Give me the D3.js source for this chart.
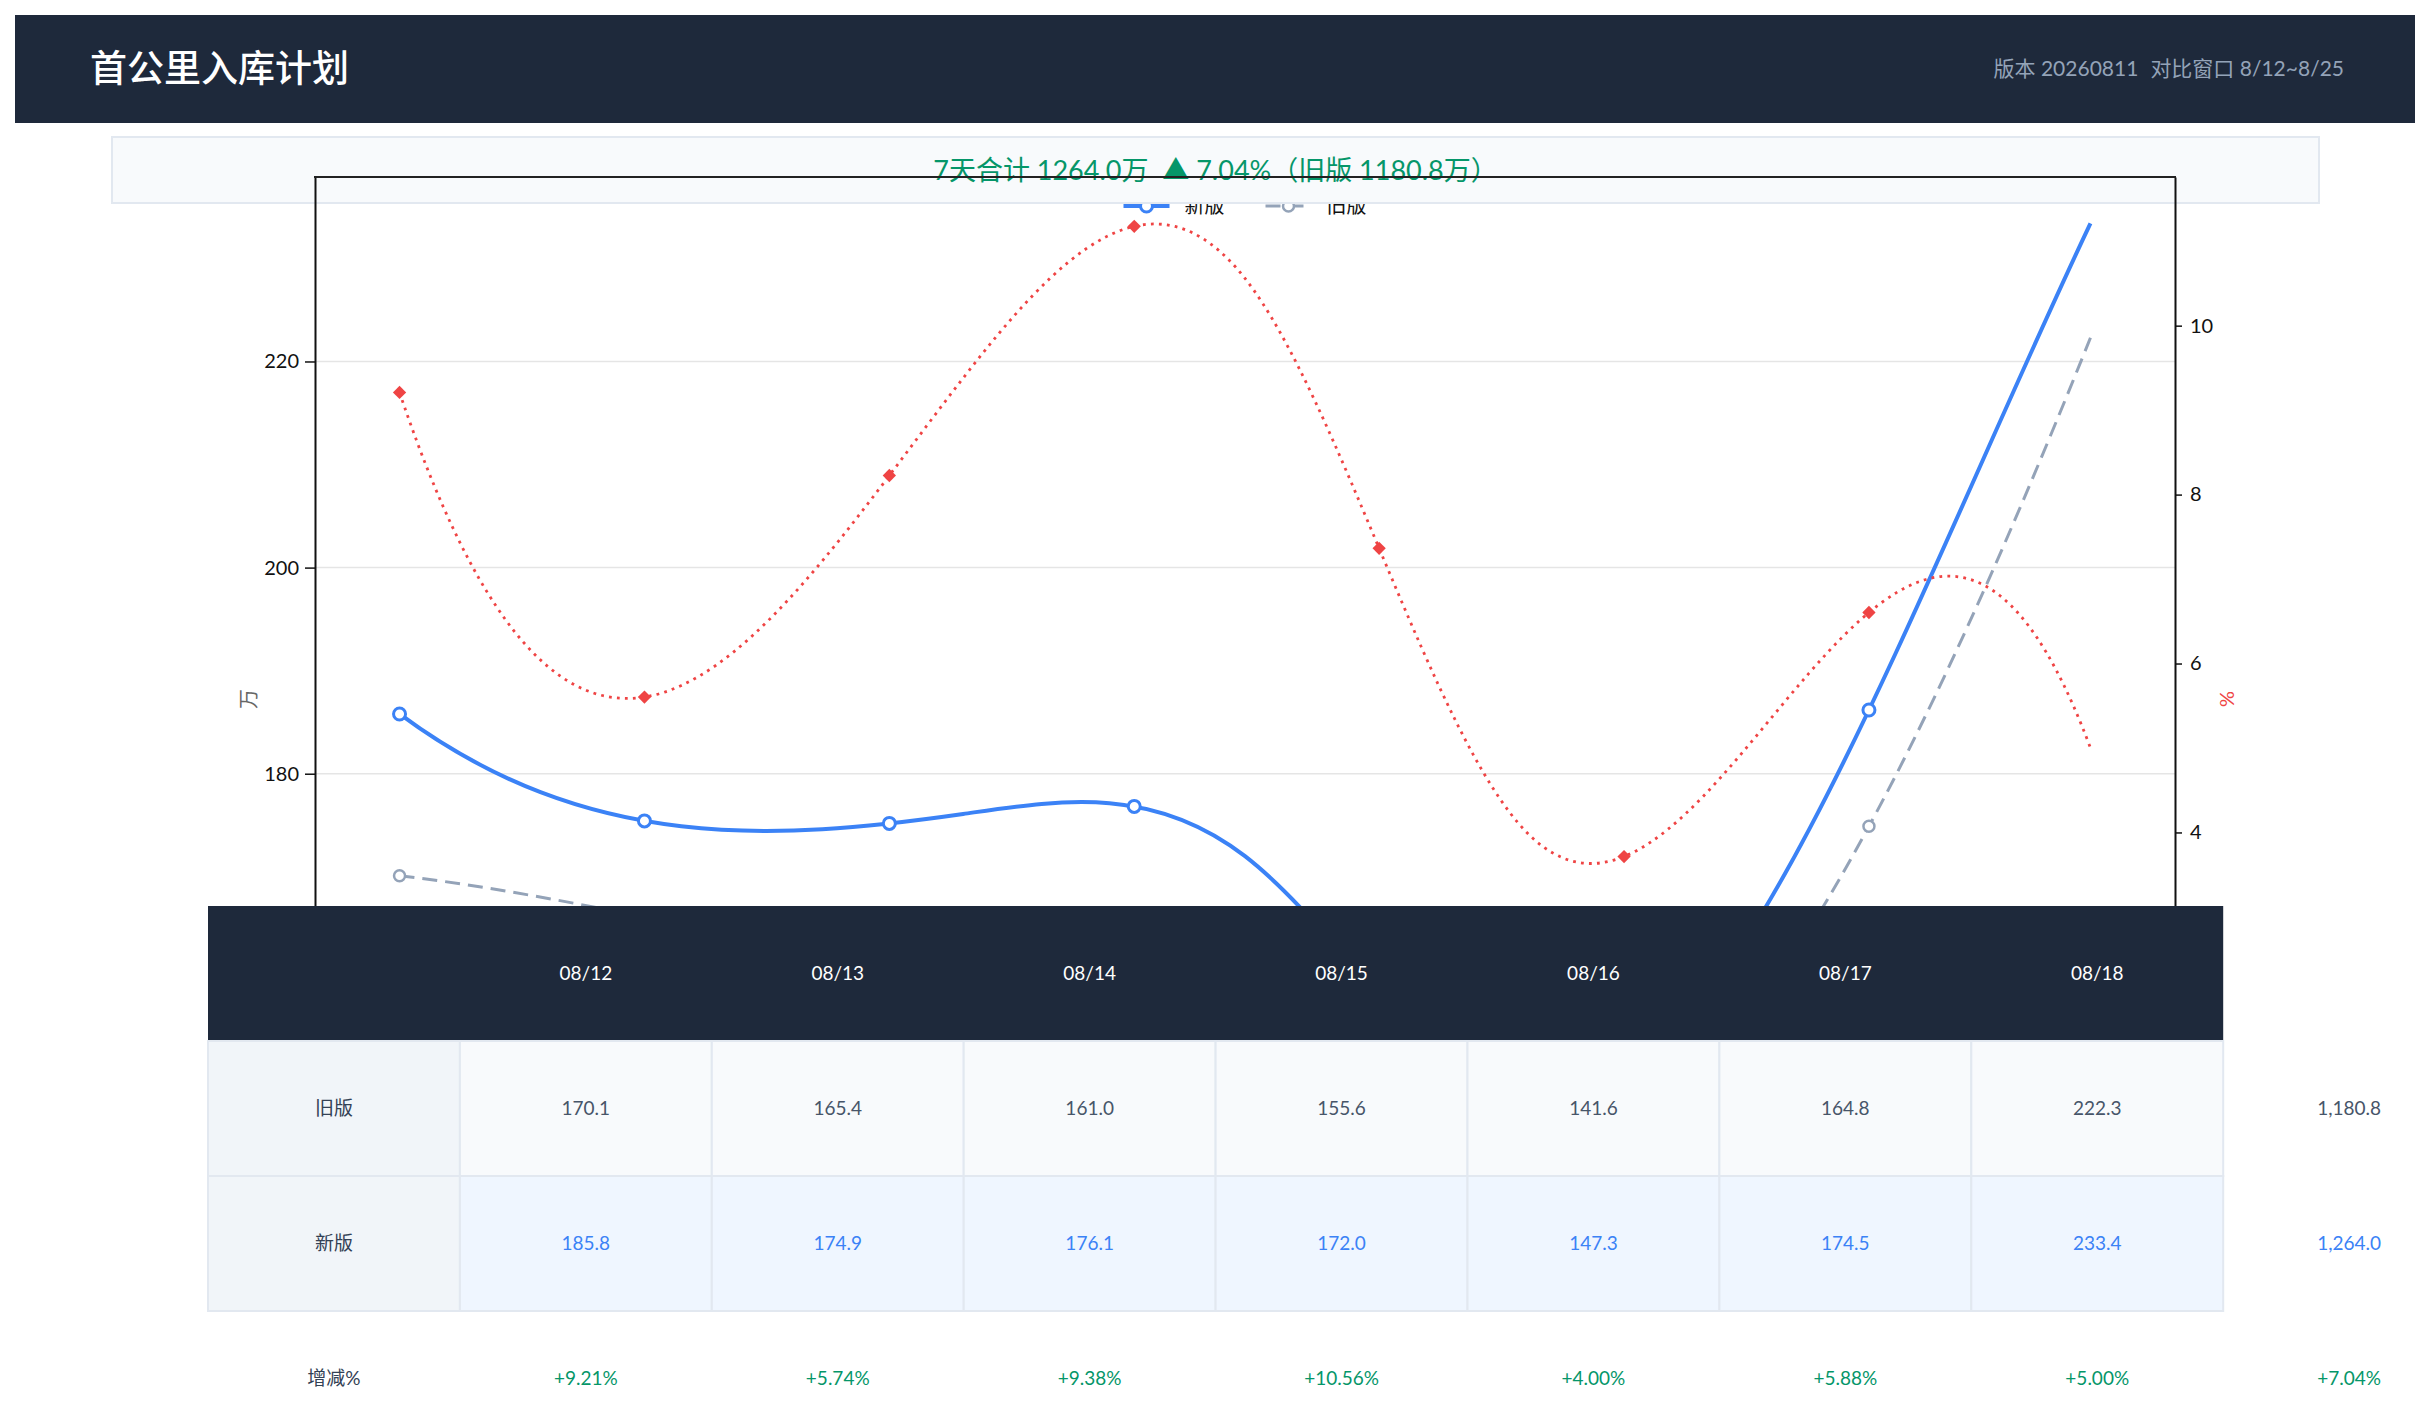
<!DOCTYPE html>
<html lang="zh-CN">
<head>
<meta charset="utf-8">
<title>首公里入库计划</title>
<script src="https://cdn.jsdelivr.net/npm/d3@7"></script>
<style>
  html, body { margin: 0; background: #fff; overflow: hidden; }
  svg { display: block; font-family: Lato, "Noto Sans CJK SC", sans-serif; }
</style>
</head>
<body>
<svg id="page" width="2430" height="1403"></svg>
<script>
// 数据
const days = ['08/12', '08/13', '08/14', '08/15', '08/16', '08/17', '08/18']
const oldVals = [170.1, 165.4, 161.0, 155.6, 141.6, 164.8, 222.3]
const newVals = [185.8, 174.9, 176.1, 172.0, 147.3, 174.5, 233.4]
const pctVals = [9.21, 5.74, 9.38, 10.56, 4.00, 5.88, 5.00]
const totals = { old: 1180.8, new: 1264.0, pct: 7.04 }
const leftTicks = [140, 160, 180, 200, 220]
const rightTicks = [0, 2, 4, 6, 8, 10]
const rowNames = ['旧版', '新版', '增减%']

const svg = d3.select('#page')
const plot = { left: 315, right: 2175, top: 177, bottom: 1221 }

// not-a-knot 三次样条：求二阶导
function secondDerivs(v) {
  const n = v.length
  const A = d3.range(n).map(() => new Array(n).fill(0))
  const b = new Array(n).fill(0)
  A[0][0] = 1; A[0][1] = -2; A[0][2] = 1
  A[n - 1][n - 3] = 1; A[n - 1][n - 2] = -2; A[n - 1][n - 1] = 1
  for (let i = 1; i < n - 1; i++) {
    A[i][i - 1] = 1; A[i][i] = 4; A[i][i + 1] = 1
    b[i] = 6 * (v[i - 1] - 2 * v[i] + v[i + 1])
  }
  for (let c = 0; c < n; c++) {
    let p = c
    for (let r = c + 1; r < n; r++) if (Math.abs(A[r][c]) > Math.abs(A[p][c])) p = r
    const tr = A[c]; A[c] = A[p]; A[p] = tr
    const tb = b[c]; b[c] = b[p]; b[p] = tb
    for (let r = c + 1; r < n; r++) {
      const f = A[r][c] / A[c][c]
      for (let k = c; k < n; k++) A[r][k] -= f * A[c][k]
      b[r] -= f * b[c]
    }
  }
  const M = new Array(n).fill(0)
  for (let r = n - 1; r >= 0; r--) {
    let s = b[r]
    for (let k = r + 1; k < n; k++) s -= A[r][k] * M[k]
    M[r] = s / A[r][r]
  }
  return M
}

function splineAt(v, M, s) {
  const i = Math.max(0, Math.min(v.length - 2, Math.floor(s)))
  const t = s - i, u = 1 - t
  return u * v[i] + t * v[i + 1] + ((u * u * u - u) * M[i] + (t * t * t - t) * M[i + 1]) / 6
}

// 给 d3.line 用的曲线
function curveNotAKnot(context) {
  let xs, ys
  return {
    areaStart() {}, areaEnd() {},
    lineStart() { xs = []; ys = [] },
    point(px, py) { xs.push(+px); ys.push(+py) },
    lineEnd() {
      const n = xs.length
      if (!n) return
      context.moveTo(xs[0], ys[0])
      if (n < 4) { for (let i = 1; i < n; i++) context.lineTo(xs[i], ys[i]); return }
      const mx = secondDerivs(xs), my = secondDerivs(ys)
      const ctrl = (v, M, i) => {
        const d = v[i + 1] - v[i]
        const d0 = d - (2 * M[i] + M[i + 1]) / 6
        const d1 = d + (M[i] + 2 * M[i + 1]) / 6
        return [v[i] + d0 / 3, v[i + 1] - d1 / 3]
      }
      for (let i = 0; i < n - 1; i++) {
        const cx = ctrl(xs, mx, i), cy = ctrl(ys, my, i)
        context.bezierCurveTo(cx[0], cy[0], cx[1], cy[1], xs[i + 1], ys[i + 1])
      }
    }
  }
}

// 页首
svg.append('rect').attr('x', 15).attr('y', 15).attr('width', 2400).attr('height', 108).attr('fill', '#1e293b')
svg.append('text').attr('x', 90).attr('y', 69).attr('dy', '0.35em')
  .attr('font-size', 37).attr('font-weight', 500).attr('fill', '#fff').text('首公里入库计划')
const meta = svg.append('text').attr('x', 2344).attr('y', 69).attr('dy', '0.35em')
  .attr('text-anchor', 'end').attr('font-size', 21).attr('fill', '#94a3b8')
meta.append('tspan').text('版本 20260811')
meta.append('tspan').attr('dx', 12).text('对比窗口 8/12~8/25')

// scale
const x = d3.scalePoint().domain(days).range([plot.left, plot.right]).padding(0.3)
// 标记点用的 x（间距比折线窄）
const xMark = d3.scalePoint().domain(days)
  .range([x(days[0]), x(days[0]) + x.step() * (days.length - 1) * 0.869])

const allVals = oldVals.concat(newVals)
const yL = d3.scaleLinear()
  .domain([d3.min(allVals) - 5, d3.max(allVals) + 4.5])
  .range([plot.bottom, plot.top])
const yR = d3.scaleLinear()
  .domain([d3.min(pctVals) - 4.6, d3.max(pctVals) + 1.2])
  .range([plot.bottom, plot.top])

const chart = svg.append('g')

// 格線
chart.append('g').selectAll('line')
  .data(leftTicks)
  .join('line')
  .attr('x1', plot.left).attr('x2', plot.right)
  .attr('y1', d => yL(d)).attr('y2', d => yL(d))
  .attr('stroke', '#e5e5e5').attr('stroke-width', 1.5)

const series = [
  { name: '旧版', vals: oldVals, y: yL, color: '#94a3b8', width: 3, dash: '15 8', mark: 'circle', r: 5.5, mw: 2.5 },
  { name: '新版', vals: newVals, y: yL, color: '#3b82f6', width: 4, dash: null, mark: 'circle', r: 6, mw: 3 },
  { name: '增减%', vals: pctVals, y: yR, color: '#ef4444', width: 2.8, dash: '2.8 5.2', mark: 'diamond' }
]

series.forEach(s => {
  const line = d3.line()
    .x((d, i) => x(days[i]))
    .y(d => s.y(d))
    .curve(curveNotAKnot)
  chart.append('path')
    .attr('fill', 'none')
    .attr('stroke', s.color)
    .attr('stroke-width', s.width)
    .attr('stroke-dasharray', s.dash)
    .attr('d', line(s.vals))
})

series.forEach(s => {
  const M = secondDerivs(s.vals)
  const pts = days.map(d => {
    const k = (xMark(d) - x(days[0])) / x.step()
    return [xMark(d), s.y(splineAt(s.vals, M, k))]
  })
  const g = chart.append('g')
  if (s.mark === 'circle') {
    g.selectAll('circle').data(pts).join('circle')
      .attr('cx', d => d[0]).attr('cy', d => d[1]).attr('r', s.r)
      .attr('fill', '#fff').attr('stroke', s.color).attr('stroke-width', s.mw)
  } else {
    g.selectAll('path').data(pts).join('path')
      .attr('d', d3.symbol(d3.symbolSquare, 88))
      .attr('transform', d => `translate(${d[0]},${d[1]}) rotate(45)`)
      .attr('fill', s.color)
  }
})

// 图例
const legendItems = series.slice(0, 2).reverse()
const legW = 142, legY = 206
const legX0 = (plot.left + plot.right) / 2 - (legW + 101) / 2
const leg = chart.append('g').selectAll('g')
  .data(legendItems)
  .join('g')
  .attr('transform', (d, i) => `translate(${legX0 + i * legW},${legY})`)
leg.append('line').attr('x1', 0).attr('x2', 46)
  .attr('stroke', d => d.color).attr('stroke-width', d => d.width)
  .attr('stroke-dasharray', d => d.dash)
leg.append('circle').attr('cx', 23).attr('r', d => d.r)
  .attr('fill', '#fff').attr('stroke', d => d.color).attr('stroke-width', d => d.mw)
leg.append('text').attr('x', 61).attr('dy', '0.35em')
  .attr('font-size', 20).attr('fill', '#111').text(d => d.name)

// 合计框
svg.append('rect').attr('x', 112).attr('y', 137).attr('width', 2207).attr('height', 66)
  .attr('fill', '#f8fafc').attr('stroke', '#e2e8f0').attr('stroke-width', 2)
svg.append('text').attr('x', 1215.5).attr('y', 171).attr('dy', '0.35em')
  .attr('text-anchor', 'middle').attr('font-size', 27).attr('fill', '#059669')
  .attr('xml:space', 'preserve')
  .text(`7天合计 ${totals.new.toFixed(1)}万  ▲ ${totals.pct.toFixed(2)}%（旧版 ${totals.old.toFixed(1)}万）`)

// 坐标轴
const styleAxis = g => {
  g.attr('font-size', 20).attr('font-family', null)
  g.select('.domain').attr('stroke', '#111').attr('stroke-width', 2)
  g.selectAll('.tick line').attr('stroke', '#111').attr('stroke-width', 1.5)
  g.selectAll('.tick text').attr('fill', '#111')
}
svg.append('g')
  .attr('transform', `translate(${plot.left},0)`)
  .call(d3.axisLeft(yL).tickValues(leftTicks).tickSize(10).tickPadding(6).tickSizeOuter(0))
  .call(styleAxis)
svg.append('g')
  .attr('transform', `translate(${plot.right},0)`)
  .call(d3.axisRight(yR).tickValues(rightTicks).tickSize(7).tickPadding(8).tickSizeOuter(0))
  .call(styleAxis)
// 上、下边框
svg.append('g').selectAll('line')
  .data([plot.top, plot.bottom])
  .join('line')
  .attr('x1', plot.left - 1).attr('x2', plot.right + 1)
  .attr('y1', d => d).attr('y2', d => d)
  .attr('stroke', '#222').attr('stroke-width', 2)

const midY = (plot.top + plot.bottom) / 2
svg.append('text').attr('transform', `translate(249,${midY}) rotate(-90)`)
  .attr('text-anchor', 'middle').attr('dy', '0.35em')
  .attr('font-size', 20).attr('fill', '#666').text('万')
svg.append('text').attr('transform', `translate(2227,${midY}) rotate(90)`)
  .attr('text-anchor', 'middle').attr('dy', '0.35em')
  .attr('font-size', 20).attr('fill', '#ef4444').text('%')

// 表格
const cols = ['label'].concat(days, ['total'])
const colX = d3.scaleBand().domain(cols).range([208, 208 + 9 * 251.9])
const rowY = d3.scaleBand().domain(['head', 'old', 'new', 'pct']).range([906, 906 + 4 * 135])
const bw = colX.bandwidth(), bh = rowY.bandwidth()
const table = svg.append('g').attr('font-size', 19)

table.append('rect')
  .attr('x', colX('label')).attr('y', rowY('head'))
  .attr('width', colX(days[days.length - 1]) + bw - colX('label')).attr('height', bh)
  .attr('fill', '#1e293b')
table.append('g').selectAll('text')
  .data(days)
  .join('text')
  .attr('x', d => colX(d) + bw / 2).attr('y', rowY('head') + bh / 2).attr('dy', '0.35em')
  .attr('text-anchor', 'middle').attr('fill', '#fff').text(d => d)

const bodyRows = [
  { key: 'old', name: rowNames[0], vals: oldVals, total: totals.old, bg: '#f8fafc', color: '#475569', fmt: d3.format('.1f') },
  { key: 'new', name: rowNames[1], vals: newVals, total: totals.new, bg: '#eff6ff', color: '#3b82f6', fmt: d3.format('.1f') },
  { key: 'pct', name: rowNames[2], vals: pctVals, total: totals.pct, bg: null, color: '#059669', fmt: v => d3.format('+.2f')(v) + '%' }
]
const totalFmt = { old: d3.format(',.1f'), new: d3.format(',.1f'), pct: v => d3.format('+.2f')(v) + '%' }

bodyRows.forEach(r => {
  const y0 = rowY(r.key)
  if (r.bg) {
    table.append('g').selectAll('rect')
      .data(['label'].concat(days))
      .join('rect')
      .attr('x', d => colX(d)).attr('y', y0).attr('width', bw).attr('height', bh)
      .attr('fill', d => d === 'label' ? '#f1f5f9' : r.bg)
      .attr('stroke', '#e2e8f0').attr('stroke-width', 2)
  }
  table.append('text')
    .attr('x', colX('label') + bw / 2).attr('y', y0 + bh / 2).attr('dy', '0.35em')
    .attr('text-anchor', 'middle').attr('fill', '#334155').text(r.name)
  table.append('g').selectAll('text')
    .data(r.vals)
    .join('text')
    .attr('x', (d, i) => colX(days[i]) + bw / 2).attr('y', y0 + bh / 2).attr('dy', '0.35em')
    .attr('text-anchor', 'middle').attr('fill', r.color).text(d => r.fmt(d))
  table.append('text')
    .attr('x', colX('total') + bw / 2).attr('y', y0 + bh / 2).attr('dy', '0.35em')
    .attr('text-anchor', 'middle').attr('fill', r.color).text(totalFmt[r.key](r.total))
})
</script>
</body>
</html>
